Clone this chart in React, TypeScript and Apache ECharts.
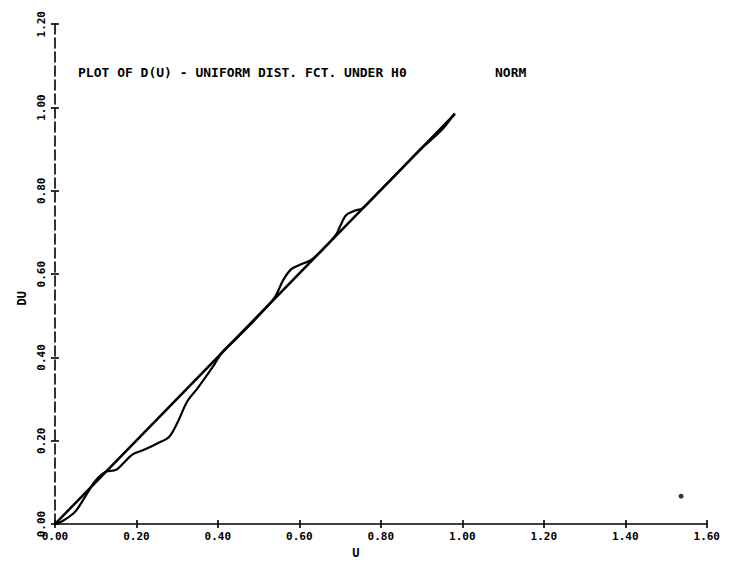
import React, { useEffect, useRef } from "react";
import * as echarts from "echarts";

const xTicks = [0, 0.2, 0.4, 0.6, 0.8, 1.0, 1.2, 1.4, 1.6];
const yTicks = [0, 0.2, 0.4, 0.6, 0.8, 1.0, 1.2];

// theoretical uniform distribution function under H0
const diagX = [0, 0.982];
const diagY = [0, 0.985];

// empirical distribution function D(U)
const empX = [0, 0.02, 0.05, 0.08, 0.1, 0.125, 0.15, 0.19, 0.22, 0.25, 0.28, 0.3, 0.325, 0.35, 0.39, 0.41, 0.45, 0.5, 0.54, 0.56, 0.58, 0.6, 0.63, 0.66, 0.69, 0.7, 0.715, 0.735, 0.755, 0.78, 0.82, 0.86, 0.9, 0.93, 0.945, 0.96, 0.981];
const empY = [0, 0.008, 0.03, 0.075, 0.105, 0.126, 0.13, 0.167, 0.179, 0.193, 0.209, 0.242, 0.295, 0.326, 0.381, 0.412, 0.45, 0.5, 0.545, 0.585, 0.612, 0.622, 0.635, 0.662, 0.695, 0.715, 0.742, 0.752, 0.758, 0.782, 0.822, 0.862, 0.902, 0.928, 0.942, 0.958, 0.986];

const strayX = [1.537];
const strayY = [0.067];

const titleText = "PLOT OF D(U) - UNIFORM DIST. FCT. UNDER H0";
const titleNote = "NORM";
const xName = "U";
const yName = "DU";

const FONT = "'DejaVu Sans Mono', monospace";

export default function App() {
  const ref = useRef<HTMLDivElement>(null);
  useEffect(() => {
    const chart = echarts.init(ref.current!, null, { renderer: "svg" });
    const xMin = xTicks[0];
    const xMax = xTicks[xTicks.length - 1];
    const yMin = yTicks[0];
    const yMax = yTicks[yTicks.length - 1];
    const labelStyle = { color: "#000", fontFamily: FONT, fontSize: 11, fontWeight: "bold" as const };
    chart.setOption({
      animation: false,
      backgroundColor: "#fff",
      grid: { left: 40, right: 12, top: 13, bottom: 27, containLabel: false },
      graphic: [
        { type: "text", left: 70, top: 58, style: { text: titleText, fill: "#000", font: `bold 13px ${FONT}` } },
        { type: "text", left: 487, top: 58, style: { text: titleNote, fill: "#000", font: `bold 13px ${FONT}` } },
      ],
      xAxis: [
        {
          type: "value",
          min: xMin,
          max: xMax,
          interval: 0.2,
          name: xName,
          nameLocation: "middle",
          nameGap: 22,
          nameTextStyle: { color: "#000", fontFamily: FONT, fontSize: 12, fontWeight: "bold", padding: [0, 50, 0, 0] },
          axisLine: { lineStyle: { color: "#000", width: 1.6 } },
          axisTick: { length: 4, lineStyle: { color: "#000", width: 1.6 } },
          axisLabel: { ...labelStyle, margin: 7, formatter: (v: number) => v.toFixed(2) },
          splitLine: { show: false },
        },
        {
          type: "value",
          min: xMin,
          max: xMax,
          interval: 0.2,
          position: "bottom",
          axisLine: { show: false },
          axisTick: { inside: true, length: 4, lineStyle: { color: "#000", width: 1.6 } },
          axisLabel: { show: false },
          splitLine: { show: false },
        },
      ],
      yAxis: [
        {
          type: "value",
          min: yMin,
          max: yMax,
          interval: 0.2,
          name: yName,
          nameLocation: "middle",
          nameGap: 24,
          nameRotate: 90,
          nameTextStyle: { color: "#000", fontFamily: FONT, fontSize: 12, fontWeight: "bold", padding: [0, 48, 0, 0] },
          axisLine: { lineStyle: { color: "#000", width: 1.6, type: [10, 4] } },
          axisTick: { length: 4, lineStyle: { color: "#000", width: 1.6 } },
          axisLabel: { ...labelStyle, rotate: 90, margin: 8, formatter: (v: number) => v.toFixed(2) },
          splitLine: { show: false },
        },
        {
          type: "value",
          min: yMin,
          max: yMax,
          interval: 0.2,
          position: "left",
          axisLine: { show: false },
          axisTick: { inside: true, length: 4, lineStyle: { color: "#000", width: 1.6 } },
          axisLabel: { show: false },
          splitLine: { show: false },
        },
      ],
      series: [
        {
          type: "line",
          data: diagX.map((x, i) => [x, diagY[i]]),
          showSymbol: false,
          lineStyle: { color: "#000", width: 2.5 },
        },
        {
          type: "line",
          data: empX.map((x, i) => [x, empY[i]]),
          showSymbol: false,
          smooth: 0.3,
          lineStyle: { color: "#000", width: 2.2 },
        },
        {
          type: "scatter",
          data: strayX.map((x, i) => [x, strayY[i]]),
          symbolSize: 5,
          itemStyle: { color: "#000" },
        },
      ],
    });
    return () => chart.dispose();
  }, []);
  return <div ref={ref} style={{ width: 715, height: 556 }} />;
}
